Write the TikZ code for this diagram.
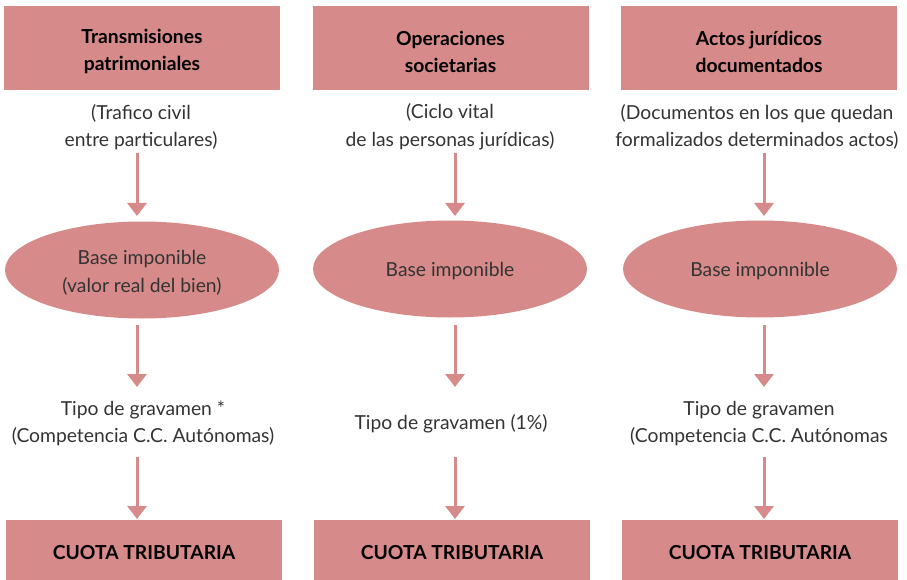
\documentclass[tikz,border=0pt]{standalone}
\usepackage{fontspec}
\setmainfont{Lato}
\usetikzlibrary{arrows.meta,shapes.geometric}
\definecolor{rosa}{HTML}{D68A89}
\definecolor{txt}{HTML}{333333}
\begin{document}
\begin{tikzpicture}[x=1pt,y=-1pt,
  hbox/.style={fill=rosa,draw=none,minimum width=276pt,minimum height=84pt,inner sep=0pt},
  fbox/.style={fill=rosa,draw=none,minimum width=276pt,minimum height=60pt,inner sep=0pt},
  btxt/.style={align=center,inner sep=0pt,font=\fontsize{19.3}{27}\selectfont\bfseries,text=black},
  ell/.style={ellipse,fill=rosa,draw=none,minimum width=274pt,minimum height=97pt,inner sep=0pt},
  lbl/.style={align=center,inner sep=0pt,font=\fontsize{19.3}{27.5}\selectfont,text=txt},
  arr/.style={draw=rosa,line width=3pt,-{Triangle[width=19pt,length=13pt]}}]
\useasboundingbox (0,0) rectangle (907,580);
% column 1
\node[hbox] (h1) at (142,48) {};
\node[btxt] (h1t) at (142,51.5) {Transmisiones\\patrimoniales};
\node[lbl] (t1) at (141,127) {(Trafico civil\\entre particulares)};
\node[ell] (e1) at (142,270) {};
\node[lbl] (e1t) at (142,273) {Base imponible\\(valor real del bien)};
\node[lbl] (g1) at (143,423.5) {Tipo de gravamen *\\(Competencia C.C. Autónomas)};
\node[fbox] (c1) at (144,550) {};
\node[btxt] (c1t) at (144,553) {CUOTA TRIBUTARIA};
% column 2
\node[hbox] (h2) at (450.5,48) {};
\node[btxt] (h2t) at (450.5,51.5) {Operaciones\\societarias};
\node[lbl] (t2) at (450,127) {(Ciclo vital\\de las personas jurídicas)};
\node[ell] (e2) at (450,269) {};
\node[lbl] (e2t) at (450,271) {Base imponible};
\node[lbl] (g2) at (451,424) {Tipo de gravamen (1\%)};
\node[fbox] (c2) at (452,550) {};
\node[btxt] (c2t) at (452,553) {CUOTA TRIBUTARIA};
% column 3
\node[hbox] (h3) at (759,48) {};
\node[btxt] (h3t) at (759,51.5) {Actos jurídicos\\documentados};
\node[lbl] (t3) at (757,127) {(Documentos en los que quedan\\formalizados determinados actos)};
\node[ell] (e3) at (760,269) {};
\node[lbl] (e3t) at (760,271) {Base imponnible};
\node[lbl] (g3) at (759,423.5) {Tipo de gravamen\\(Competencia C.C. Autónomas};
\node[fbox] (c3) at (760,550) {};
\node[btxt] (c3t) at (760,553) {CUOTA TRIBUTARIA};
% arrow end points
\foreach \c/\x in {1/137,2/455,3/764}{
  \coordinate (a\c s) at (\x,153); \coordinate (a\c e) at (\x,216);
  \coordinate (b\c s) at (\x,325); \coordinate (b\c e) at (\x,387);
  \coordinate (d\c s) at (\x,457); \coordinate (d\c e) at (\x,519);
  \draw[arr] (a\c s) -- (a\c e);
  \draw[arr] (b\c s) -- (b\c e);
  \draw[arr] (d\c s) -- (d\c e);
}
\end{tikzpicture}
\end{document}
